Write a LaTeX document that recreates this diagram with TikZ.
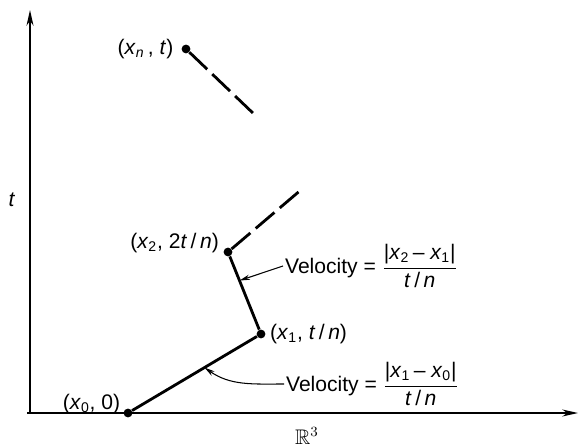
\documentclass[tikz,border=0pt]{standalone}
\usepackage{fontspec}
\usepackage{amsmath,amssymb}
\setmainfont{Liberation Sans}
\usetikzlibrary{arrows.meta,positioning}
\newcommand{\vx}[1]{\textit{x}\textsubscript{#1}}
\newcommand{\tn}{\textit{t}\,/\,\textit{n}}

\begin{document}
\begin{tikzpicture}[
  x=0.02cm,y=0.02cm,
  every node/.style={font=\large},
  axis/.style={line width=0.9pt,-{Stealth[length=9pt,width=4pt]}},
  seg/.style={line width=1.6pt},
  dseg/.style={line width=1.6pt,dash pattern=on 14pt off 4pt},
  dot/.style={circle,fill,inner sep=0pt,minimum size=5pt},
  pointer/.style={line width=0.6pt,-{Stealth[length=6pt,width=3pt]}}
]
\useasboundingbox (0,0) rectangle (581,446);

\coordinate (O) at (30,33);
\coordinate (T) at (30,436);
\coordinate (X) at (578,33);
\draw[axis] (O) -- (T);
\draw[axis] (27,33) -- (X);
\node (tlab) at (12,246) {\textit{t}};
\node (R3) at (307,10) {$\mathbb{R}^3$};

\node[dot] (P0) at (128,33) {};
\node[dot] (P1) at (261,112) {};
\node[dot] (P2) at (228,194) {};
\node[dot] (Pn) at (186,397) {};
\coordinate (E2) at (302,257);
\coordinate (En) at (256,330);

\draw[seg] (P0) -- (P1) coordinate[pos=0.58] (M1) -- (P2) coordinate[pos=0.67] (M2);
\draw[dseg] (P2) -- (E2);
\draw[dseg] (Pn) -- (En);

\node[left=1pt of Pn] (Ln) {(\vx{\textit{n}}\,, \textit{t})};
\node[left=-1pt of P2,yshift=5pt] (L2) {(\vx{2}, 2\tn)};
\node[right=-1pt of P1] (L1) {(\vx{1}, \tn)};
\node[above left=-6pt and -1pt of P0] (L0) {(\vx{0}, 0)};

\node[anchor=west,inner sep=1pt] (V2) at (283,180)
  {Velocity = $\dfrac{\text{|\vx{2}\,-- \vx{1}|}}{\text{\tn}}$};
\node[anchor=west,inner sep=1pt] (V1) at (284,62)
  {Velocity = $\dfrac{\text{|\vx{1}\,-- \vx{0}|}}{\text{\tn}}$};

\draw[pointer] (V2.west) -- (M2);
\draw[pointer] (V1.west) to[out=180,in=-35] (M1);
\end{tikzpicture}
\end{document}
